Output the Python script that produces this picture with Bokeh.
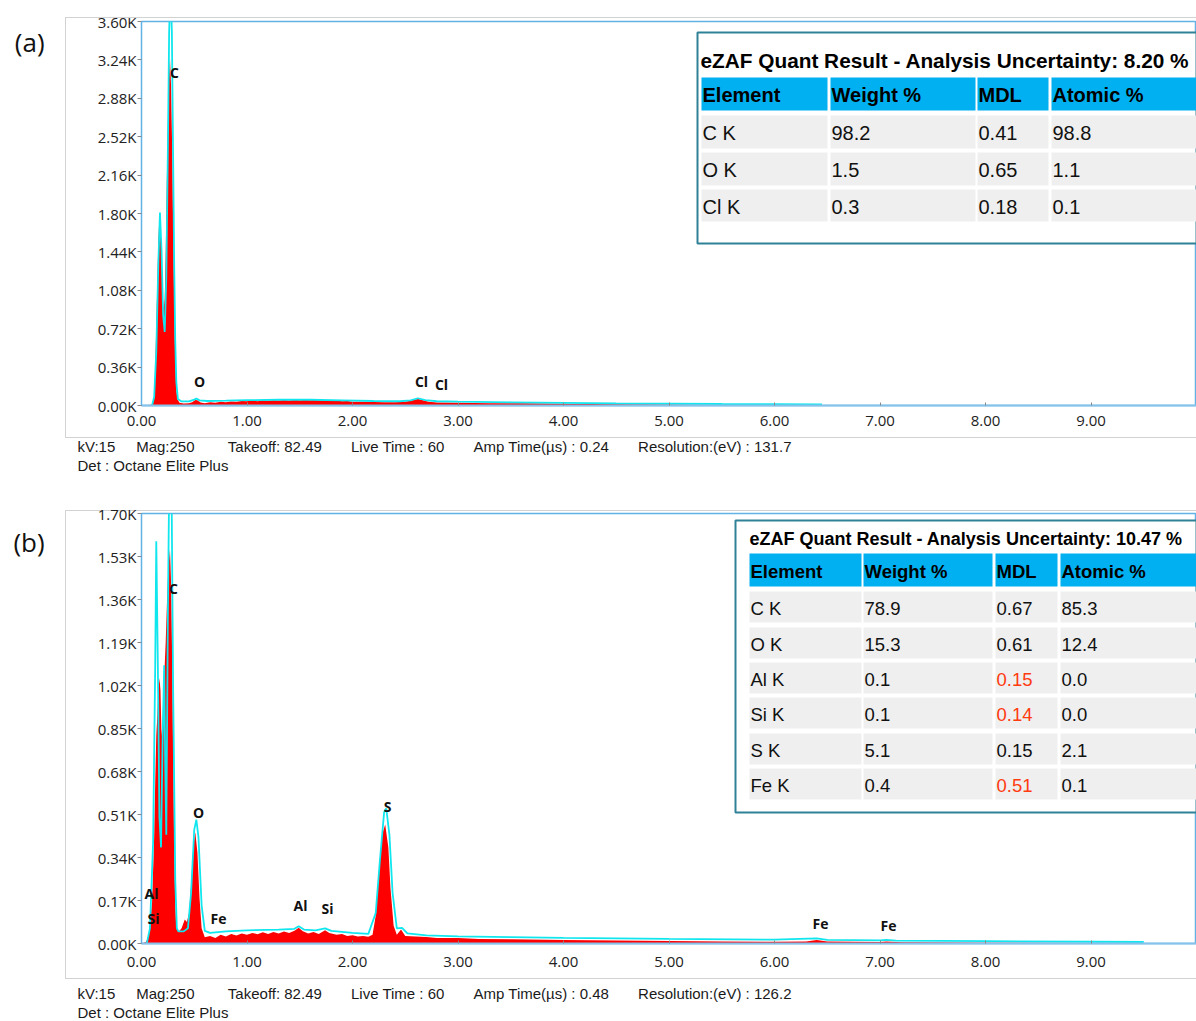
from bokeh.plotting import figure
from bokeh.layouts import column
from bokeh.models import Label, BoxAnnotation, FixedTicker, Range1d, Title, LinearAxis
from bokeh.embed import file_html
from bokeh.resources import INLINE

# ---------------- data ----------------
energy_ticks = [0, 1, 2, 3, 4, 5, 6, 7, 8, 9]
energy_labels = ["0.00", "1.00", "2.00", "3.00", "4.00", "5.00", "6.00", "7.00", "8.00", "9.00"]

counts_ticks_a = [0, 360, 720, 1080, 1440, 1800, 2160, 2520, 2880, 3240, 3600]
counts_labels_a = ["0.00K", "0.36K", "0.72K", "1.08K", "1.44K", "1.80K", "2.16K", "2.52K", "2.88K", "3.24K", "3.60K"]
counts_ticks_b = [0, 170, 340, 510, 680, 850, 1020, 1190, 1360, 1530, 1700]
counts_labels_b = ["0.00K", "0.17K", "0.34K", "0.51K", "0.68K", "0.85K", "1.02K", "1.19K", "1.36K", "1.53K", "1.70K"]

# (a) measured spectrum (keV, counts)
spec_a_energy = [0.00, 0.06, 0.10, 0.12, 0.13, 0.14, 0.15, 0.16, 0.17, 0.18, 0.19, 0.20, 0.21, 0.22,
                 0.23, 0.24, 0.25, 0.26, 0.27, 0.28, 0.29, 0.30, 0.31, 0.32, 0.33, 0.34, 0.36, 0.40,
                 0.45, 0.48, 0.51, 0.53, 0.56, 0.60, 0.65, 0.70, 0.75, 0.80, 0.85, 0.90, 0.95, 1.00,
                 1.05, 1.10, 1.15, 1.20, 1.25, 1.30, 1.35, 1.40, 1.45, 1.50, 1.55, 1.60, 1.65, 1.70,
                 1.75, 1.80, 1.85, 1.90, 1.95, 2.00, 2.10, 2.20, 2.30, 2.40, 2.50, 2.58, 2.62, 2.66,
                 2.72, 2.80, 3.00, 3.30, 3.60, 4.00, 4.50, 5.00, 5.50, 6.00, 7.00, 8.00, 10.0]
spec_a_counts = [0, 4, 8, 60, 350, 750, 1150, 1550, 1780, 1700, 1350, 1050, 900, 1000,
                 1450, 2100, 2650, 3050, 3260, 3000, 2450, 1700, 950, 420, 150, 60, 25, 18,
                 20, 30, 52, 50, 28, 22, 30, 26, 34, 31, 38, 35, 42, 40,
                 46, 41, 48, 44, 50, 46, 52, 47, 55, 49, 53, 50, 56, 48,
                 52, 45, 47, 40, 42, 36, 35, 33, 30, 31, 36, 52, 62, 52,
                 34, 28, 26, 22, 20, 16, 12, 9, 5, 3, 2, 1, 0]

# (a) fitted curve
fit_a_energy = [0.10, 0.12, 0.14, 0.16, 0.175, 0.19, 0.205, 0.22, 0.235, 0.25, 0.262, 0.275, 0.288,
                0.30, 0.31, 0.32, 0.33, 0.345, 0.38, 0.45, 0.50, 0.52, 0.55, 0.62, 0.80, 1.00, 1.30,
                1.60, 1.90, 2.20, 2.45, 2.55, 2.62, 2.69, 2.80, 3.00, 3.50, 4.00, 4.50, 5.00, 5.50,
                6.00, 6.45]
fit_a_counts = [0, 80, 500, 1350, 1810, 1450, 850, 690, 1200, 2400, 3500, 3950, 3500,
                2300, 1300, 600, 220, 60, 38, 38, 55, 65, 48, 42, 45, 50, 54,
                54, 48, 42, 40, 48, 68, 50, 40, 36, 30, 25, 20, 17, 14,
                12, 10]

# (b) measured spectrum
spec_b_energy = [0.00, 0.04, 0.06, 0.08, 0.10, 0.12, 0.13, 0.14, 0.15, 0.16, 0.17, 0.18, 0.19, 0.20,
                 0.21, 0.22, 0.23, 0.24, 0.25, 0.26, 0.27, 0.28, 0.29, 0.30, 0.31, 0.32, 0.33, 0.35,
                 0.38, 0.41, 0.43, 0.45, 0.47, 0.49, 0.51, 0.53, 0.55, 0.57, 0.60, 0.65, 0.70, 0.75,
                 0.80, 0.85, 0.90, 0.95, 1.00, 1.05, 1.10, 1.15, 1.20, 1.25, 1.30, 1.35, 1.40, 1.45,
                 1.49, 1.53, 1.58, 1.63, 1.68, 1.74, 1.78, 1.85, 1.90, 1.95, 2.00, 2.05, 2.10, 2.15,
                 2.19, 2.22, 2.25, 2.28, 2.31, 2.34, 2.36, 2.39, 2.42, 2.46, 2.50, 2.60, 2.70, 2.80,
                 3.00, 3.20, 3.50, 4.00, 4.50, 5.00, 5.50, 6.00, 6.30, 6.40, 6.50, 7.00, 7.06, 7.20,
                 8.00, 9.00, 10.0]
spec_b_counts = [0, 5, 20, 70, 160, 420, 640, 820, 900, 1000, 1050, 1000, 820, 880,
                 1050, 1100, 1200, 1330, 1440, 1510, 1560, 1430, 1150, 750, 380, 150, 60, 45,
                 60, 95, 85, 120, 230, 380, 440, 360, 180, 60, 25, 30, 22, 35,
                 28, 38, 32, 40, 35, 42, 37, 44, 38, 45, 40, 47, 42, 50,
                 62, 48, 40, 45, 38, 52, 42, 35, 38, 30, 33, 28, 30, 27,
                 35, 110, 290, 430, 470, 380, 220, 70, 35, 55, 30, 28, 26, 22,
                 22, 18, 17, 14, 12, 10, 8, 7, 8, 14, 8, 6, 8, 5,
                 3, 2, 1]

# (b) fitted curve
fit_b_energy = [0.05, 0.08, 0.11, 0.13, 0.14, 0.155, 0.17, 0.185, 0.20, 0.215, 0.225, 0.235, 0.25,
                0.262, 0.27, 0.285, 0.30, 0.32, 0.335, 0.35, 0.40, 0.44, 0.47, 0.50, 0.52, 0.54,
                0.57, 0.60, 0.65, 0.80, 1.00, 1.30, 1.45, 1.49, 1.54, 1.65, 1.74, 1.80, 2.00, 2.15,
                2.22, 2.26, 2.30, 2.32, 2.35, 2.38, 2.42, 2.47, 2.52, 2.70, 3.00, 3.50, 4.00, 5.00,
                6.00, 6.40, 6.50, 7.00, 7.06, 7.15, 8.00, 9.00, 9.50]
fit_b_counts = [0, 60, 400, 1100, 1590, 1100, 500, 380, 800, 1100, 700, 430, 1300,
                1800, 1950, 1800, 1000, 250, 60, 48, 48, 60, 200, 450, 490, 420,
                150, 50, 42, 48, 52, 55, 58, 68, 55, 52, 60, 50, 42, 38,
                120, 330, 520, 534, 430, 200, 60, 62, 40, 32, 28, 25, 22, 18,
                15, 20, 14, 12, 14, 11, 9, 7, 6]

# peak identifications
peaks_a_names = ["C", "O", "Cl", "Cl"]
peaks_b_names = ["C", "O", "S", "Al", "Si", "Fe", "Al", "Si", "Fe", "Fe"]

# quantification tables
table_header = ["Element", "Weight %", "MDL", "Atomic %"]
table_a_title = "eZAF Quant Result - Analysis Uncertainty: 8.20 %"
table_a_rows = [["C K", "98.2", "0.41", "98.8"],
                ["O K", "1.5", "0.65", "1.1"],
                ["Cl K", "0.3", "0.18", "0.1"]]
table_b_title = "eZAF Quant Result - Analysis Uncertainty: 10.47 %"
table_b_rows = [["C K", "78.9", "0.67", "85.3"],
                ["O K", "15.3", "0.61", "12.4"],
                ["Al K", "0.1", "0.15", "0.0"],
                ["Si K", "0.1", "0.14", "0.0"],
                ["S K", "5.1", "0.15", "2.1"],
                ["Fe K", "0.4", "0.51", "0.1"]]
table_b_flagged = [(2, 2), (3, 2), (5, 2)]

info_a = ["kV:15", "Mag:250", "Takeoff: 82.49", "Live Time : 60", "Amp Time(µs) : 0.24", "Resolution:(eV) : 131.7"]
info_b = ["kV:15", "Mag:250", "Takeoff: 82.49", "Live Time : 60", "Amp Time(µs) : 0.48", "Resolution:(eV) : 126.2"]
detector = "Det : Octane Elite Plus"

# ---------------- styling / layout ----------------
RED = "#ff0000"
CYAN = "#10e6ee"
FRAME_BLUE = "#62b2e6"
HEAD_BLUE = "#00b0f0"
CELL_GRAY = "#efefef"
TABLE_EDGE = "#2e8196"
BOX_GRAY = "#d2d2d2"
TICK_FONT = "Open Sans"
TAB_FONT = "Liberation Sans"
NB = "\u00a0"

FIG_W = 1196
FRAME_L = 141
FRAME_R = 1196
X_MAX = 10.0
SX = (FRAME_R - FRAME_L) / X_MAX


def fx(px):
    return (px - FRAME_L) / SX


def gray_box_css(left, top, width, height):
    g = "linear-gradient(%s,%s)" % (BOX_GRAY, BOX_GRAY)
    parts = [
        "%s %dpx %dpx / %dpx 1px no-repeat" % (g, left, top, width),
        "%s %dpx %dpx / %dpx 1px no-repeat" % (g, left, top + height, width),
        "%s %dpx %dpx / 1px %dpx no-repeat" % (g, left, top, height),
    ]
    return {"background": ", ".join(parts) + ", white"}


def make_fig(height, top_border, bottom_border, ymax, ticks, labels, css, xlab_standoff, spacer):
    p = figure(width=FIG_W, height=height, x_range=Range1d(0, X_MAX), y_range=Range1d(0, ymax),
               output_backend="svg", toolbar_location=None,
               min_border_left=FRAME_L, min_border_right=0,
               min_border_top=top_border, min_border_bottom=bottom_border, styles=css)
    p.grid.visible = False
    p.background_fill_color = "white"
    p.border_fill_color = None
    p.outline_line_color = FRAME_BLUE
    p.outline_line_width = 1.5
    p.xaxis.ticker = FixedTicker(ticks=energy_ticks)
    p.xaxis.major_label_overrides = {t: l for t, l in zip(energy_ticks, energy_labels)}
    p.yaxis.ticker = FixedTicker(ticks=ticks)
    p.yaxis.major_label_overrides = {t: l for t, l in zip(ticks, labels)}
    for ax in (p.xaxis, p.yaxis):
        ax.major_label_text_font = TICK_FONT
        ax.major_label_text_font_size = "15px"
        ax.major_label_text_color = "#222222"
        ax.minor_tick_line_color = None
        ax.major_tick_line_color = "#888888"
    p.xaxis.axis_line_color = "#86c2ea"
    p.xaxis.axis_line_width = 2
    p.xaxis.major_tick_in = 3
    p.xaxis.major_tick_out = 0
    p.xaxis.major_label_standoff = xlab_standoff
    # tiny blank axis label: only reserves vertical room above the acquisition info
    p.xaxis.axis_label = NB
    p.xaxis.axis_label_text_font_size = "1px"
    p.xaxis.axis_label_standoff = spacer
    p.yaxis.axis_line_color = FRAME_BLUE
    p.yaxis.major_tick_in = 0
    p.yaxis.major_tick_out = 4
    p.yaxis.major_label_standoff = 1
    return p


def box(p, fy, l, t, r, b, fill=None, line=None, lw=1.0):
    p.add_layout(BoxAnnotation(left=fx(l), right=fx(r), top=fy(t), bottom=fy(b),
                               fill_color=fill, fill_alpha=1.0 if fill else 0.0,
                               line_color=line, line_alpha=1.0 if line else 0.0, line_width=lw))


def label(p, fy, px, py, text, size, font=TAB_FONT, style="normal", color="#000000", align="left"):
    p.add_layout(Label(x=fx(px), y=fy(py), text=text, text_font=font, text_font_size=size,
                       text_font_style=style, text_color=color, text_align=align,
                       text_baseline="middle"))


def table(p, fy, outer, title, title_xy, title_size, header_rows, col_edges, row_edges, rows,
          text_size, flagged=()):
    box(p, fy, *outer, fill="white", line=TABLE_EDGE, lw=2)
    label(p, fy, title_xy[0], title_xy[1], title, title_size, style="bold")
    ht, hb = header_rows
    for (cl, cr), h in zip(col_edges, table_header):
        box(p, fy, cl, ht, cr, hb, fill=HEAD_BLUE)
        label(p, fy, cl + 1, (ht + hb) / 2 + 1, h, text_size, style="bold")
    for i, ((rt, rb), row) in enumerate(zip(row_edges, rows)):
        for j, ((cl, cr), txt) in enumerate(zip(col_edges, row)):
            box(p, fy, cl, rt, cr, rb, fill=CELL_GRAY)
            col = "#ff3b0f" if (i, j) in flagged else "#111111"
            label(p, fy, cl + 1, (rt + rb) / 2 + 1, txt, text_size, color=col)


def info(p, items):
    gaps = [5, 8, 7, 7, 7]
    line1 = items[0]
    for g, t in zip(gaps, items[1:]):
        line1 += NB * g + t
    for txt in (line1, detector):
        p.add_layout(Title(text=txt, align="left", offset=77 - FRAME_L, text_font=TAB_FONT,
                           text_font_size="15px", text_font_style="normal",
                           text_color="#1a1a1a", standoff=0), "below")


def panel_label(p, text, line_height):
    ax = p.yaxis[0]
    ax.axis_label = NB + "\n" + text
    ax.axis_label_orientation = "horizontal"
    ax.axis_label_text_font = TICK_FONT
    ax.axis_label_text_font_size = "26px"
    ax.axis_label_text_font_style = "normal"
    ax.axis_label_text_color = "#111111"
    ax.axis_label_text_line_height = line_height
    ax.axis_label_standoff = 50
    if "axis_label_align" in LinearAxis.properties():
        ax.axis_label_align = "end"


# ---------------- panel (a) ----------------
A_TOP, A_BOT, A_MAX = 21, 405, 3600


def fya(py):
    return (A_BOT - py) * A_MAX / (A_BOT - A_TOP)


pa = make_fig(490, A_TOP, 490 - A_BOT, A_MAX, counts_ticks_a, counts_labels_a,
              gray_box_css(65, 17, 1131, 420), 10, 3)
pa.varea(x=spec_a_energy, y1=0, y2=spec_a_counts, fill_color=RED)
pa.line(fit_a_energy, fit_a_counts, line_color=CYAN, line_width=1.8)
for name, (px, py) in zip(peaks_a_names, [(174, 72), (199, 381), (421, 381), (441, 384)]):
    label(pa, fya, px, py, name, "14px", font=TICK_FONT, style="bold", color="#111111", align="center")
table(pa, fya, (697, 32, 1196, 243), table_a_title, (700, 60), "20.8px", (77, 110),
      [(701, 827), (830, 975), (977, 1048), (1051, 1196)],
      [(115, 148), (152, 185), (189, 221)], table_a_rows, "20px")
panel_label(pa, "(a)", 1.12)
info(pa, info_a)

# ---------------- panel (b) ----------------
B_TOP, B_BOT, B_MAX = 513, 943, 1700


def fyb(py):
    return (B_BOT - py) * B_MAX / (B_BOT - B_TOP)


pb = make_fig(531, B_TOP - 490, 1021 - B_BOT, B_MAX, counts_ticks_b, counts_labels_b,
              gray_box_css(65, 20, 1131, 468), 13, 9)
pb.varea(x=spec_b_energy, y1=0, y2=spec_b_counts, fill_color=RED)
pb.line(fit_b_energy, fit_b_counts, line_color=CYAN, line_width=1.8)
for name, (px, py) in zip(peaks_b_names, [(173, 588), (198, 812), (387, 806), (151, 893), (153, 918),
                                          (218, 918), (300, 905), (327, 908), (820, 923), (888, 925)]):
    label(pb, fyb, px, py, name, "14px", font=TICK_FONT, style="bold", color="#111111", align="center")
table(pb, fyb, (735, 520, 1196, 812), table_b_title, (749, 538), "18px", (553, 586),
      [(749, 861), (863, 992), (995, 1057), (1060, 1196)],
      [(591, 622), (627, 658), (662, 693), (697, 728), (733, 764), (768, 799)],
      table_b_rows, "18.5px", table_b_flagged)
panel_label(pb, "(b)", 1.60)
info(pb, info_b)

layout = column(pa, pb, spacing=0)
open("out.html", "w").write(file_html(layout, INLINE))
